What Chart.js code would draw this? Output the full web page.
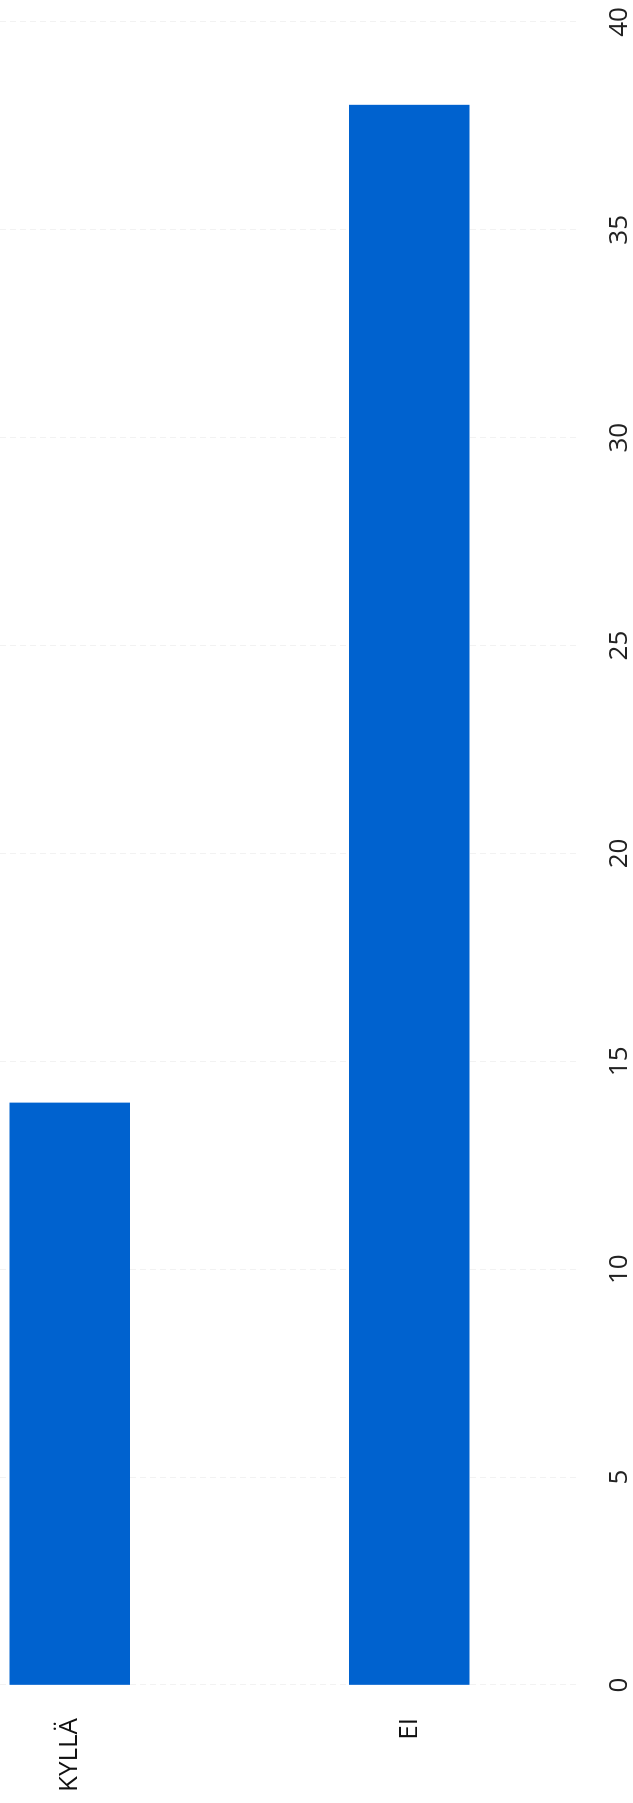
<!DOCTYPE html>
<html>
<head>
<meta charset="utf-8">
<script src="https://cdn.jsdelivr.net/npm/chart.js@4.4.1/dist/chart.umd.min.js"></script>
<style>
  html, body { margin: 0; padding: 0; background: #ffffff; }
  body { width: 633px; height: 1803px; overflow: hidden; position: relative; }
  #wrap {
    position: absolute; left: 0; top: 0;
    width: 1803px; height: 740px;
    transform-origin: 0 0;
    transform: translate(-100px, 1803px) rotate(-90deg);
  }
  canvas { display: block; }
</style>
</head>
<body>
<div id="wrap"><canvas id="c" width="1803" height="740"></canvas></div>
<script>
const categories = ['KYLLÄ', 'EI'];
const values = [14, 38];
const tickMin = 0;
const tickMax = 40;
const tickStep = 5;

const FONT = '"Open Sans", sans-serif';

new Chart(document.getElementById('c'), {
  type: 'bar',
  data: {
    labels: categories,
    datasets: [{
      data: values,
      backgroundColor: '#0062CF',
      borderWidth: 0,
      barThickness: 120
    }]
  },
  options: {
    indexAxis: 'y',
    responsive: false,
    animation: false,
    devicePixelRatio: 1,
    layout: { padding: { top: 0, bottom: 0, left: 0, right: 22 } },
    plugins: { legend: { display: false }, tooltip: { enabled: false } },
    scales: {
      x: {
        min: tickMin, max: tickMax,
        ticks: { stepSize: tickStep, color: '#222', font: { family: FONT, size: 26 }, padding: 25, maxRotation: 0 },
        grid: { color: '#f2f2f2', drawTicks: false },
        border: { display: false, dash: [6, 4] },
        afterFit(s) { s.height = 61; s.paddingLeft = 0; s.paddingRight = 0; }
      },
      y: {
        ticks: { color: '#111', font: { family: FONT, size: 26 }, padding: 33 },
        grid: { display: false, drawTicks: false },
        border: { display: false },
        afterFit(s) { s.width = 118; s.paddingTop = 0; s.paddingBottom = 0; }
      }
    }
  }
});
</script>
</body>
</html>
